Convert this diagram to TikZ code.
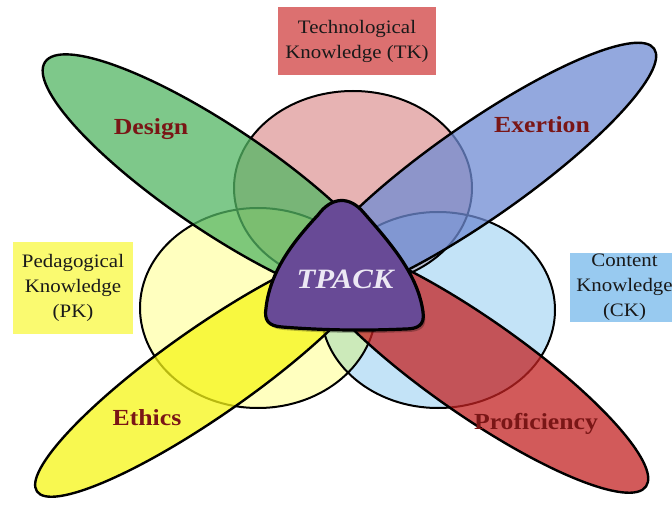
\documentclass[tikz,border=0pt]{standalone}
\usepackage{fontspec}
\setmainfont{Liberation Serif}
\definecolor{tkred}{RGB}{209,105,105}
\definecolor{pkyellow}{RGB}{255,255,129}
\definecolor{ckblue}{RGB}{137,201,241}
\definecolor{lensgreen}{RGB}{204,234,186}
\definecolor{designgreen}{RGB}{83,182,99}
\definecolor{exertblue}{RGB}{111,139,211}
\definecolor{ethicsyellow}{RGB}{246,246,22}
\definecolor{profred}{RGB}{196,35,35}
\definecolor{tpackpurple}{RGB}{104,74,150}
\definecolor{lbltext}{RGB}{122,22,22}
\definecolor{tkbox}{RGB}{220,112,112}
\definecolor{pkbox}{RGB}{250,250,112}
\definecolor{ckbox}{RGB}{152,202,240}
\tikzset{
  circ/.style={fill opacity=0.5},
  petal/.style={draw=black, line width=2.4pt, fill opacity=0.75},
  lbl/.style={font=\fontsize{23}{26}\selectfont\bfseries, text=lbltext, xscale=1.12, anchor=base},
  kbox/.style={font=\fontsize{19}{25}\selectfont, text=black!90, align=center, inner sep=0pt, xscale=1.1}
}
\begin{document}
\begin{tikzpicture}[x=1pt,y=-1pt]
\useasboundingbox (0,0) rectangle (672,505);
\clip (0,0) rectangle (672,505);
\fill[white] (0,0) rectangle (672,505);
% knowledge boxes
\node[kbox, fill=tkbox, minimum width=143.6pt, minimum height=68pt] (tk) at (357,41) {Technological\\Knowledge (TK)};
\node[kbox, fill=pkbox, minimum width=109pt, minimum height=91pt] (pk) at (73,288) {Pedagogical\\Knowledge\\(PK)};
\node[kbox, fill=ckbox, minimum width=99pt, minimum height=69pt] (ck) at (624.5,287.5) {Content\\Knowledge\\(CK)};
% the three circles
\fill[circ, tkred] (353,188) ellipse [x radius=119, y radius=97];
\fill[circ, pkyellow] (258,308) ellipse [x radius=118, y radius=100];
\fill[circ, ckblue] (438,310) ellipse [x radius=117, y radius=98];
\begin{scope}
\clip (258,308) ellipse [x radius=118, y radius=100];
\fill[lensgreen] (438,310) ellipse [x radius=117, y radius=98];
\end{scope}
\draw[line width=2pt] (353,188) ellipse [x radius=119, y radius=97];
\draw[line width=2pt] (258,308) ellipse [x radius=118, y radius=100];
\draw[line width=2pt] (438,310) ellipse [x radius=117, y radius=98];
% petals
\draw[petal, fill=designgreen, rotate around={-34:(220,180)}] (220,180) ellipse [x radius=211, y radius=52];
\draw[petal, fill=exertblue, rotate around={35:(478,172)}] (478,172) ellipse [x radius=215, y radius=47];
\draw[petal, fill=ethicsyellow, rotate around={35:(209,371)}] (209,371) ellipse [x radius=210, y radius=44];
\draw[petal, fill=profred, rotate around={-35:(474,366)}] (474,366) ellipse [x radius=210, y radius=48];
\node[lbl] (design) at (151,135) {Design};
\node[lbl] (exertion) at (542,133) {Exertion};
\node[lbl] (ethics) at (147,425) {Ethics};
\node[lbl] (proficiency) at (536,429) {Proficiency};
% TPACK triangle
\fill[black, opacity=0.25, xshift=2pt, yshift=-3pt] (318,215) .. controls (332,196) and (350,196) .. (364,213)
  .. controls (392,245) and (418,275) .. (423,312) .. controls (425,325) and (418,329) .. (405,329)
  .. controls (360,331) and (320,330) .. (282,327) .. controls (268,326) and (264,320) .. (266,308)
  .. controls (270,272) and (292,243) .. (318,215) -- cycle;
\draw[line width=3.2pt, fill=tpackpurple, line join=round] (318,215) .. controls (332,196) and (350,196) .. (364,213)
  .. controls (392,245) and (418,275) .. (423,312) .. controls (425,325) and (418,329) .. (405,329)
  .. controls (360,331) and (320,330) .. (282,327) .. controls (268,326) and (264,320) .. (266,308)
  .. controls (270,272) and (292,243) .. (318,215) -- cycle;
\node[font=\fontsize{28}{30}\selectfont\bfseries\itshape, text={rgb,255:red,236;green,232;blue,244}, xscale=1.1, anchor=base] (tpack) at (345,288) {TPACK};
\end{tikzpicture}
\end{document}
